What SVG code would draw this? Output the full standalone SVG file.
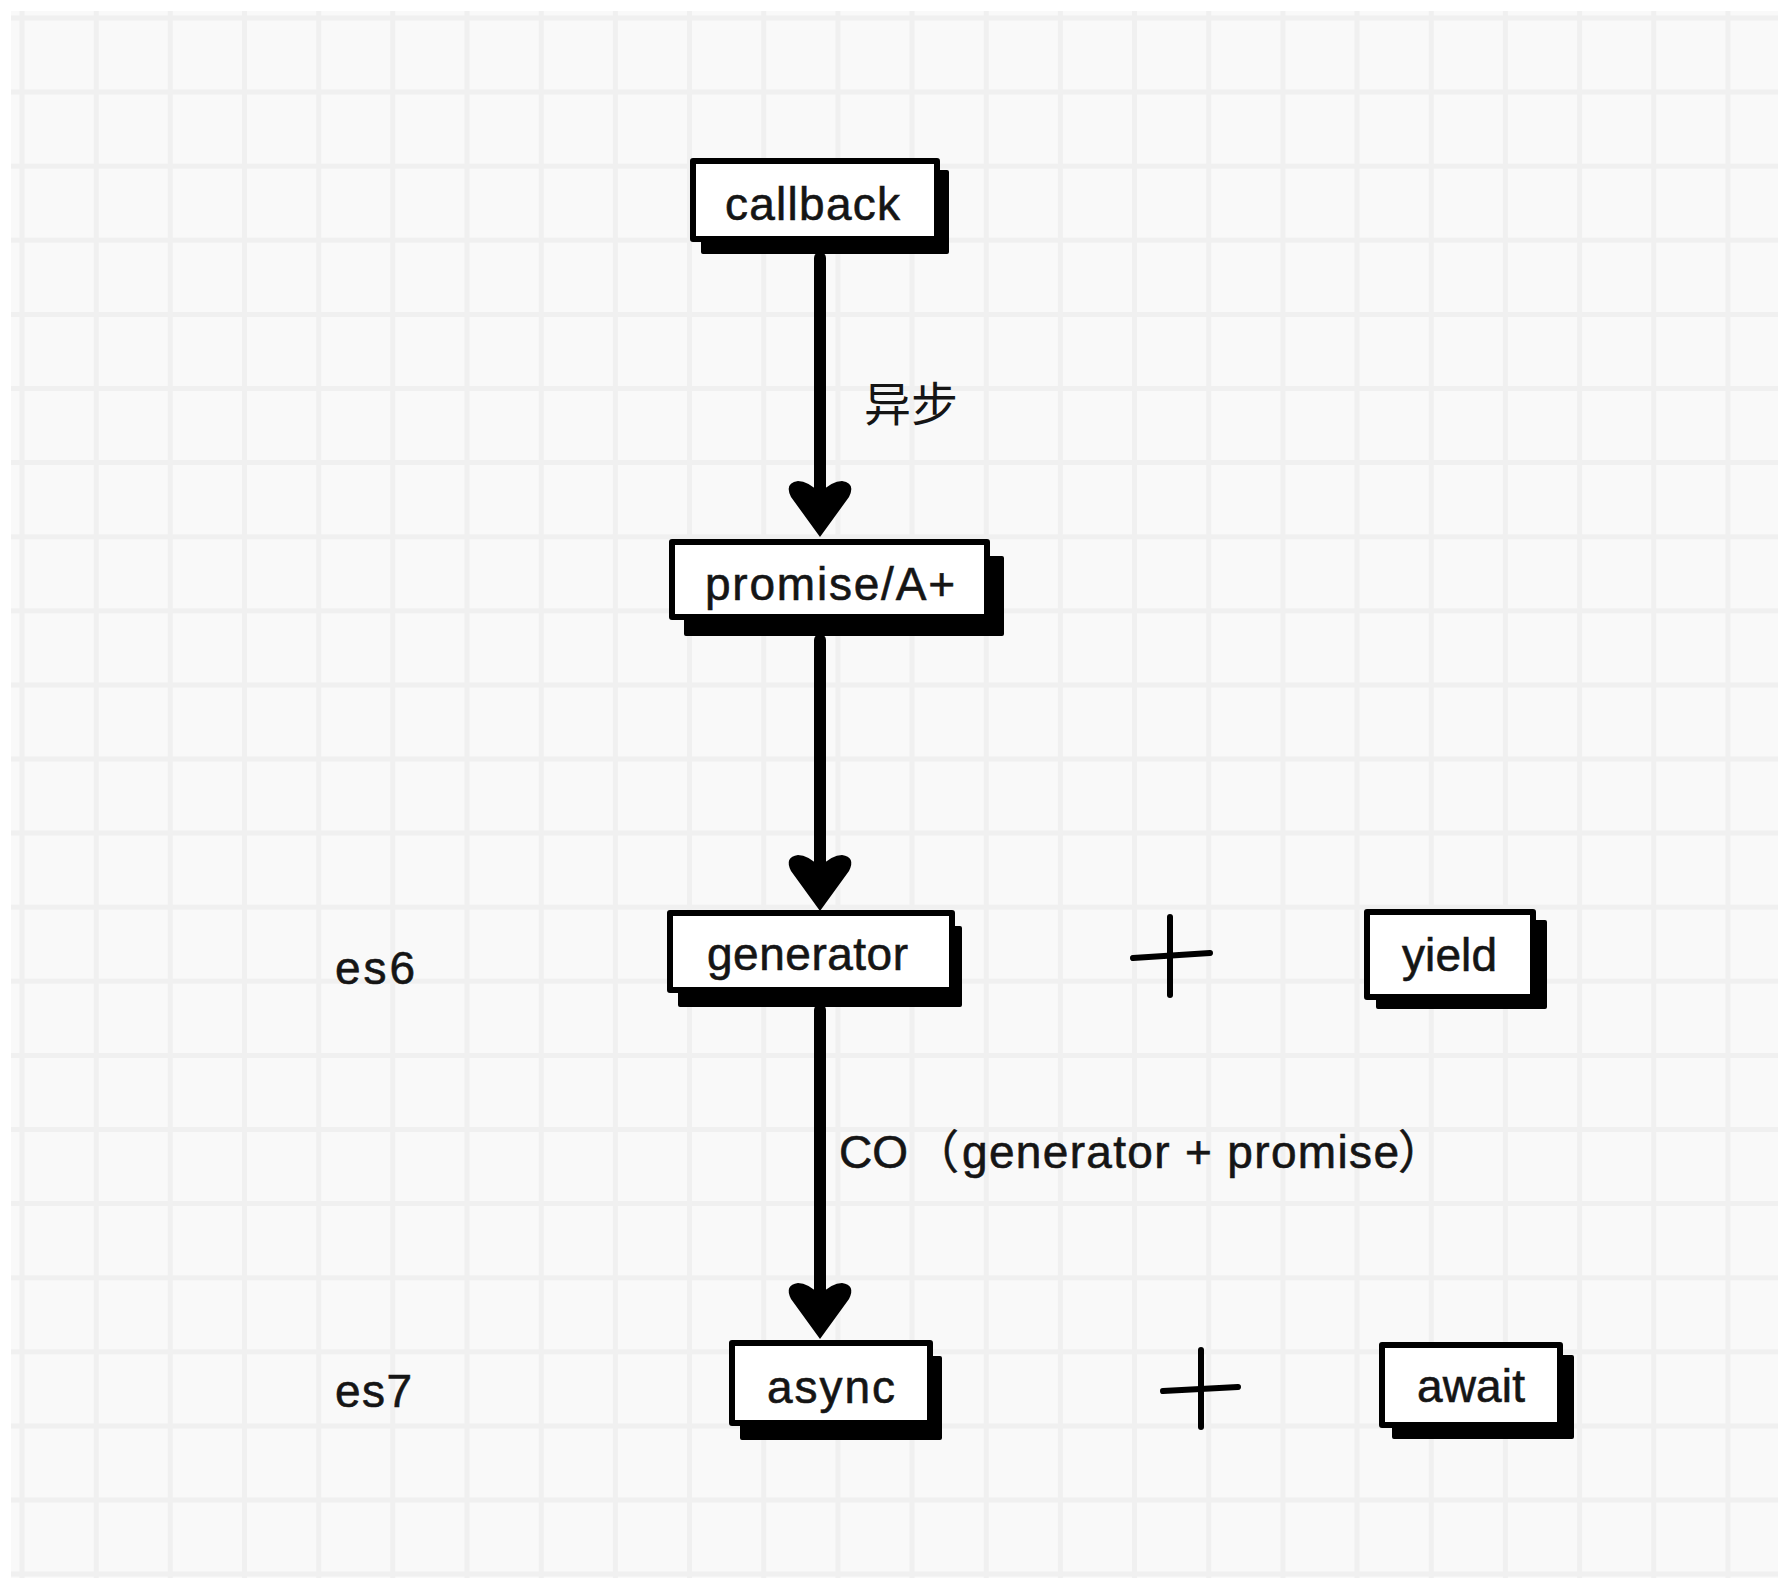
<svg xmlns="http://www.w3.org/2000/svg" xmlns:xlink="http://www.w3.org/1999/xlink" width="1778" height="1582" viewBox="0 0 1778 1582">
<style>
.grid line{stroke:#f0f0f0;stroke-width:5}
.box{fill:#ffffff;stroke:#000;stroke-width:6;stroke-linejoin:round}
.shadow{fill:#000;stroke:#000;stroke-width:4;stroke-linejoin:round}
.lbl{font-family:"Liberation Sans","Noto Sans CJK SC",sans-serif;font-size:46px;fill:#151515;stroke:#151515;stroke-width:0.6}
.cjk{font-family:"Noto Sans CJK SC","Liberation Sans",sans-serif;font-size:47px;fill:#151515}
.edge{stroke:#000;stroke-width:12;stroke-linecap:round;fill:none}
.plus{stroke:#000;stroke-width:6;stroke-linecap:round;fill:none}
</style>
<defs>
<path id="head" d="M0 0 L-29 -40 Q-36 -54 -22 -56 Q-12 -56 0 -44 Q12 -56 22 -56 Q36 -54 29 -40 Z" fill="#000"/>
</defs>
<rect x="0" y="0" width="1778" height="1582" fill="#ffffff"/>
<rect x="11" y="11" width="1767" height="1567" fill="#f9f9f9"/>
<g class="grid">
<line x1="22" y1="11" x2="22" y2="1578"/>
<line x1="96.2" y1="11" x2="96.2" y2="1578"/>
<line x1="170.3" y1="11" x2="170.3" y2="1578"/>
<line x1="244.5" y1="11" x2="244.5" y2="1578"/>
<line x1="318.7" y1="11" x2="318.7" y2="1578"/>
<line x1="392.8" y1="11" x2="392.8" y2="1578"/>
<line x1="467" y1="11" x2="467" y2="1578"/>
<line x1="541.2" y1="11" x2="541.2" y2="1578"/>
<line x1="615.4" y1="11" x2="615.4" y2="1578"/>
<line x1="689.5" y1="11" x2="689.5" y2="1578"/>
<line x1="763.7" y1="11" x2="763.7" y2="1578"/>
<line x1="837.9" y1="11" x2="837.9" y2="1578"/>
<line x1="912" y1="11" x2="912" y2="1578"/>
<line x1="986.2" y1="11" x2="986.2" y2="1578"/>
<line x1="1060.4" y1="11" x2="1060.4" y2="1578"/>
<line x1="1134.5" y1="11" x2="1134.5" y2="1578"/>
<line x1="1208.7" y1="11" x2="1208.7" y2="1578"/>
<line x1="1282.9" y1="11" x2="1282.9" y2="1578"/>
<line x1="1357" y1="11" x2="1357" y2="1578"/>
<line x1="1431.2" y1="11" x2="1431.2" y2="1578"/>
<line x1="1505.4" y1="11" x2="1505.4" y2="1578"/>
<line x1="1579.6" y1="11" x2="1579.6" y2="1578"/>
<line x1="1653.7" y1="11" x2="1653.7" y2="1578"/>
<line x1="1727.9" y1="11" x2="1727.9" y2="1578"/>
<line x1="11" y1="18" x2="1778" y2="18"/>
<line x1="11" y1="92.1" x2="1778" y2="92.1"/>
<line x1="11" y1="166.2" x2="1778" y2="166.2"/>
<line x1="11" y1="240.3" x2="1778" y2="240.3"/>
<line x1="11" y1="314.4" x2="1778" y2="314.4"/>
<line x1="11" y1="388.5" x2="1778" y2="388.5"/>
<line x1="11" y1="462.6" x2="1778" y2="462.6"/>
<line x1="11" y1="536.7" x2="1778" y2="536.7"/>
<line x1="11" y1="610.8" x2="1778" y2="610.8"/>
<line x1="11" y1="684.9" x2="1778" y2="684.9"/>
<line x1="11" y1="759" x2="1778" y2="759"/>
<line x1="11" y1="833.1" x2="1778" y2="833.1"/>
<line x1="11" y1="907.2" x2="1778" y2="907.2"/>
<line x1="11" y1="981.3" x2="1778" y2="981.3"/>
<line x1="11" y1="1055.4" x2="1778" y2="1055.4"/>
<line x1="11" y1="1129.5" x2="1778" y2="1129.5"/>
<line x1="11" y1="1203.6" x2="1778" y2="1203.6"/>
<line x1="11" y1="1277.7" x2="1778" y2="1277.7"/>
<line x1="11" y1="1351.8" x2="1778" y2="1351.8"/>
<line x1="11" y1="1425.9" x2="1778" y2="1425.9"/>
<line x1="11" y1="1500" x2="1778" y2="1500"/>
<line x1="11" y1="1574" x2="1778" y2="1574"/>
</g>
<g id="connectors">
<line class="edge" x1="820" y1="258" x2="820" y2="500"/>
<use href="#head" x="820" y="537"/>
<line class="edge" x1="820" y1="640" x2="820" y2="875"/>
<use href="#head" x="820" y="911"/>
<line class="edge" x1="820" y1="1010" x2="820" y2="1300"/>
<use href="#head" x="820" y="1339"/>
<text class="cjk" x="864" y="421">异步</text>
<text class="lbl" y="1168"><tspan x="839">CO</tspan><tspan x="913" font-family="Noto Sans CJK SC, sans-serif">（</tspan><tspan x="962" textLength="437">generator + promise</tspan><tspan x="1398" font-family="Noto Sans CJK SC, sans-serif">）</tspan></text>
</g>
<g id="node-callback">
<rect class="shadow" x="703" y="172" width="244" height="80"/>
<rect class="box" x="693" y="161" width="244" height="78"/>
<text class="lbl" x="725" y="220" textLength="175">callback</text>
</g>
<g id="node-promise">
<rect class="shadow" x="686" y="558" width="316" height="76"/>
<rect class="box" x="672" y="542" width="315" height="75"/>
<text class="lbl" x="705" y="600" textLength="250">promise/A+</text>
</g>
<g id="node-generator">
<rect class="shadow" x="680" y="928" width="280" height="77"/>
<rect class="box" x="670" y="913" width="282" height="77"/>
<text class="lbl" x="707" y="970" textLength="201">generator</text>
</g>
<g id="node-yield">
<rect class="shadow" x="1378" y="922" width="167" height="85"/>
<rect class="box" x="1367" y="912" width="166" height="85"/>
<text class="lbl" x="1402" y="971" textLength="95">yield</text>
</g>
<g id="node-async">
<rect class="shadow" x="742" y="1358" width="198" height="80"/>
<rect class="box" x="732" y="1343" width="198" height="80"/>
<text class="lbl" x="767" y="1403" textLength="128">async</text>
</g>
<g id="node-await">
<rect class="shadow" x="1394" y="1357" width="178" height="80"/>
<rect class="box" x="1382" y="1345" width="178" height="80"/>
<text class="lbl" x="1417" y="1402" textLength="108">await</text>
</g>
<g id="plus-1">
<line class="plus" x1="1170" y1="917" x2="1170" y2="995"/>
<line class="plus" x1="1133" y1="958" x2="1210" y2="953"/>
</g>
<g id="plus-2">
<line class="plus" x1="1201" y1="1350" x2="1201" y2="1427"/>
<line class="plus" x1="1163" y1="1391" x2="1238" y2="1387"/>
</g>
<g id="label-es6">
<text class="lbl" x="335" y="984" textLength="80">es6</text>
</g>
<g id="label-es7">
<text class="lbl" x="335" y="1407" textLength="77">es7</text>
</g>
</svg>
